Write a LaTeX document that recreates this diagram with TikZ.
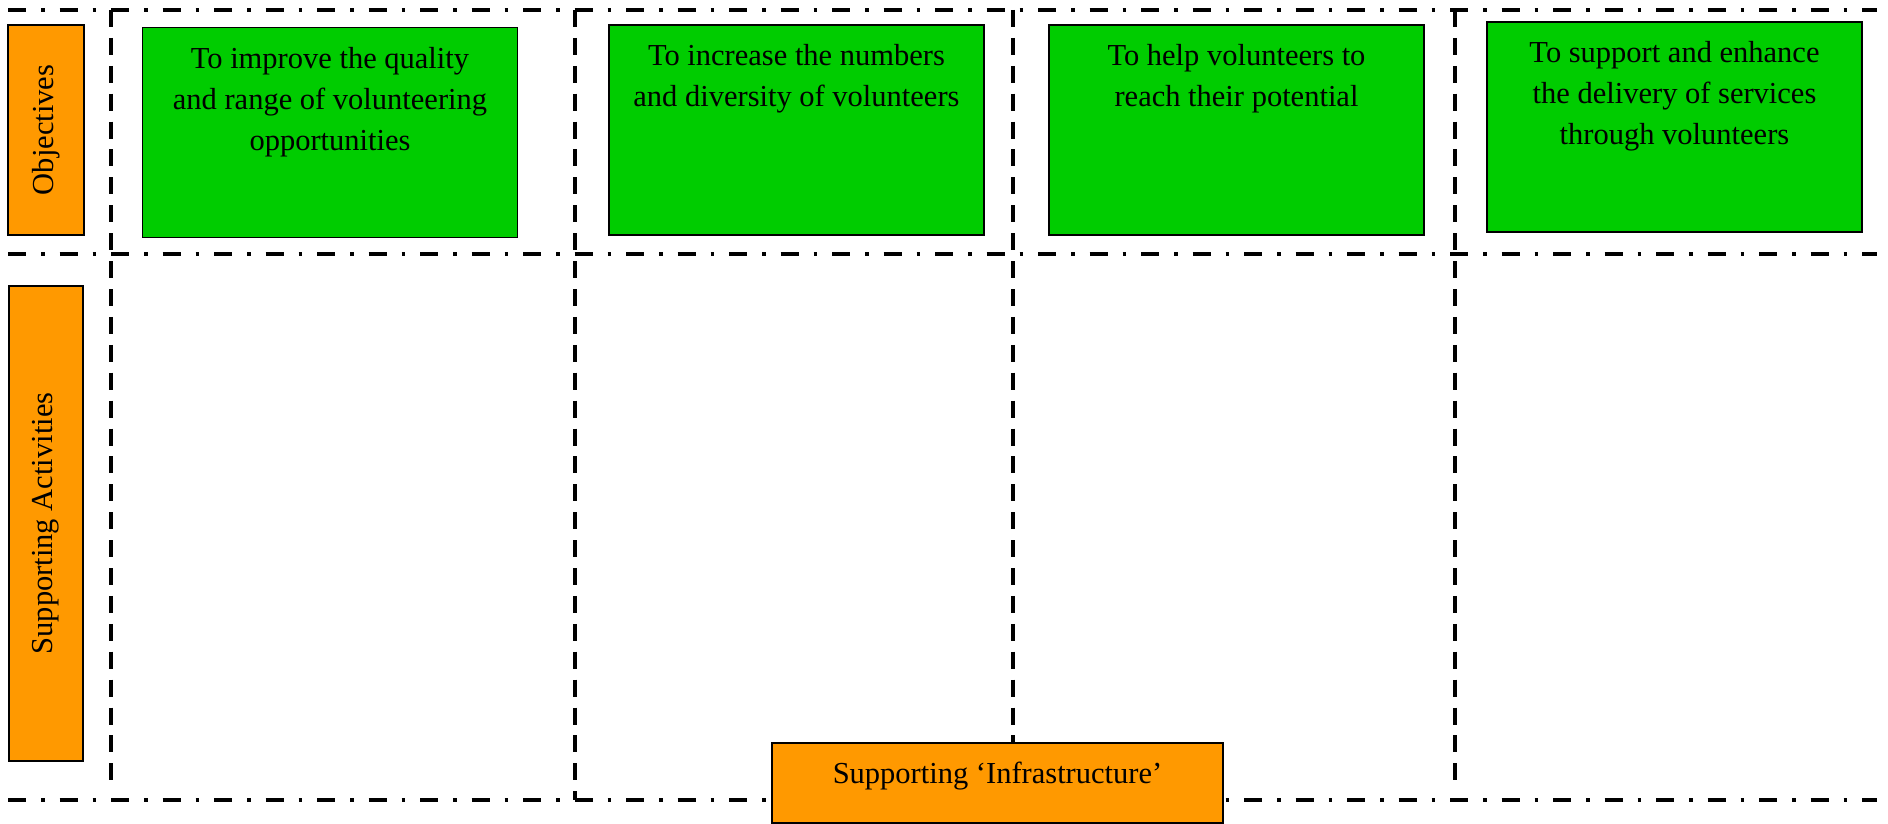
\documentclass[tikz,border=0pt]{standalone}
\usepackage{fontspec}
\setmainfont{Liberation Serif}
\usepackage{xcolor}
\usepackage{tikz}

\definecolor{goalgreen}{RGB}{0,204,0}
\definecolor{headorange}{RGB}{255,153,0}

\newcommand{\goaltext}[2][171pt]{\parbox[t][#1][t]{350pt}{\centering #2}}

\begin{document}
\begin{tikzpicture}[
			     x=1pt, y=-1pt,
			     every node/.style={font=\fontsize{30.5}{41}\selectfont},
			     row line/.style={line width=3.8pt, dash pattern=on 18pt off 15pt on 3.5pt off 15pt},
			     col line/.style={line width=3.8pt, dash pattern=on 17pt off 10.9pt},
			     goal/.style={draw, line width=1.3pt, fill=goalgreen, inner sep=0pt, minimum width=375pt, minimum height=210pt},
			     head/.style={draw, line width=1.3pt, fill=headorange, inner sep=0pt, rotate=90}
			     ]
\useasboundingbox (0,0) rectangle (1888,824);
% rows and columns
\draw[row line] (8,10) -- (1877,10);
\draw[row line] (8,254) -- (1877,254);
\draw[row line] (8,800) -- (1877,800);
\draw[col line] (111,10) -- (111,780);
\draw[col line] (575,10) -- (575,800);
\draw[col line] (1013,10) -- (1013,743);
\draw[col line] (1455,10) -- (1455,780);
% headings
\node[head, minimum width=210pt, minimum height=76pt] (objectives) at (46,130) {Objectives};
\node[head, minimum width=475pt, minimum height=74pt] (activities) at (46,523.5) {Supporting Activities};
% objectives
\node[goal] (quality) at (330,132.5) {\goaltext{To improve the quality\\ and range of volunteering\\ opportunities}};
\node[goal] (diversity) at (796.5,130) {\goaltext{To increase the numbers\\ and diversity of volunteers}};
\node[goal] (potential) at (1236.5,130) {\goaltext{To help volunteers to\\ reach their potential}};
\node[goal] (services) at (1674.5,127) {\goaltext{To support and enhance\\ the delivery of services\\ through volunteers}};
\node[goal, fill=headorange, minimum width=451pt, minimum height=80pt] (infra) at (997.5,783) {\goaltext[42pt]{Supporting ‘Infrastructure’}};
\end{tikzpicture}
\end{document}
